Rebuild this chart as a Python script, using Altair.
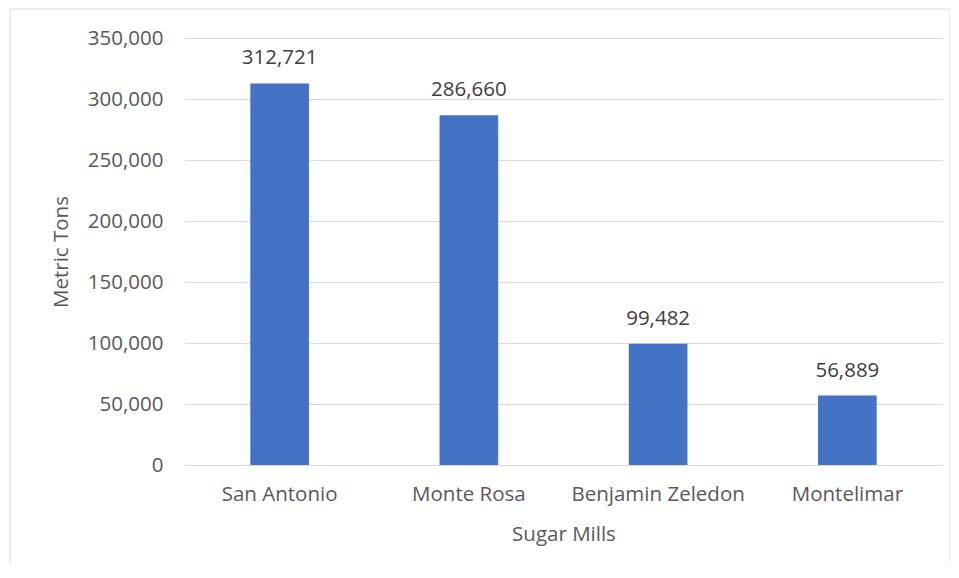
import altair as alt
import pandas as pd

mills = ["San Antonio", "Monte Rosa", "Benjamin Zeledon", "Montelimar"]
tons = [312721, 286660, 99482, 56889]

df = pd.DataFrame({"mill": mills, "tons": tons})

FONT = "Open Sans"
FS = 20.5
W, H = 757, 427
PAD_L, PAD_T = 177, 30

x = alt.X("mill:N", sort=mills, title="Sugar Mills",
          scale=alt.Scale(paddingInner=0.69, paddingOuter=0.345),
          axis=alt.Axis(labelAngle=0, labelFontSize=FS, labelColor="#595959",
                        labelFont=FONT, labelPadding=19, ticks=False, domain=True,
                        domainColor="#d9d9d9", titleFont=FONT, titleFontSize=FS,
                        titleFontWeight="normal", titleColor="#595959", titlePadding=20))
y = alt.Y("tons:Q", title="Metric Tons",
          scale=alt.Scale(domain=[0, 350000]),
          axis=alt.Axis(values=list(range(0, 350001, 50000)), format=",.0f",
                        labelFontSize=FS, labelColor="#595959", labelFont=FONT,
                        labelPadding=22, ticks=False, domain=False, gridColor="#d9d9d9",
                        titleFont=FONT, titleFontSize=FS, titleFontWeight="normal",
                        titleColor="#595959", titlePadding=16))

border = alt.Chart(pd.DataFrame({"a": [0]})).mark_rect(
    fillOpacity=0, stroke="#d9d9d9", strokeWidth=1
).encode(x=alt.value(10 - 8 - PAD_L), x2=alt.value(950 - 8 - PAD_L),
         y=alt.value(9 - 8 - PAD_T), y2=alt.value(600 - 8 - PAD_T))

bars = alt.Chart(df).mark_bar(color="#4472C4").encode(x=x, y=y)
labels = alt.Chart(df).mark_text(baseline="bottom", dy=-15, fontSize=FS, font=FONT,
                                 color="#404040").encode(
    x=x, y=y, text=alt.Text("tons:Q", format=",.0f"))

chart = alt.layer(bars, labels, border).properties(
    width=W, height=H,
    padding={"left": PAD_L, "top": PAD_T, "right": 8, "bottom": 100},
    autosize=alt.AutoSizeParams(type="none"),
).configure(background="white").configure_view(stroke=None)

chart.save("out.html", embed_options={"renderer": "svg", "actions": False})
